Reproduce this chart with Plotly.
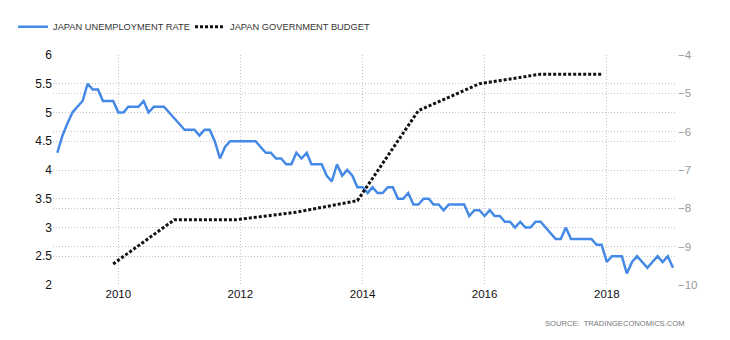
import plotly.graph_objects as go
import pandas as pd

# ---- data -------------------------------------------------------------
unemp_start = "2009-01-01"
unemployment = [
    4.3, 4.6, 4.8, 5.0, 5.1, 5.2, 5.5, 5.4, 5.4, 5.2, 5.2, 5.2,   # 2009
    5.0, 5.0, 5.1, 5.1, 5.1, 5.2, 5.0, 5.1, 5.1, 5.1, 5.0, 4.9,   # 2010
    4.8, 4.7, 4.7, 4.7, 4.6, 4.7, 4.7, 4.5, 4.2, 4.4, 4.5, 4.5,   # 2011
    4.5, 4.5, 4.5, 4.5, 4.4, 4.3, 4.3, 4.2, 4.2, 4.1, 4.1, 4.3,   # 2012
    4.2, 4.3, 4.1, 4.1, 4.1, 3.9, 3.8, 4.1, 3.9, 4.0, 3.9, 3.7,   # 2013
    3.7, 3.6, 3.7, 3.6, 3.6, 3.7, 3.7, 3.5, 3.5, 3.6, 3.4, 3.4,   # 2014
    3.5, 3.5, 3.4, 3.4, 3.3, 3.4, 3.4, 3.4, 3.4, 3.2, 3.3, 3.3,   # 2015
    3.2, 3.3, 3.2, 3.2, 3.1, 3.1, 3.0, 3.1, 3.0, 3.0, 3.1, 3.1,   # 2016
    3.0, 2.9, 2.8, 2.8, 3.0, 2.8, 2.8, 2.8, 2.8, 2.8, 2.7, 2.7,   # 2017
    2.4, 2.5, 2.5, 2.5, 2.2, 2.4, 2.5, 2.4, 2.3, 2.4, 2.5, 2.4,   # 2018
    2.5, 2.3,                                                     # 2019
]
budget_dates = ["2009-12-01", "2010-12-01", "2011-12-01", "2012-12-01",
                "2013-12-01", "2014-12-01", "2015-12-01", "2016-12-01",
                "2017-12-01"]
budget = [-9.45, -8.3, -8.3, -8.1, -7.8, -5.45, -4.75, -4.5, -4.5]

left_ticks = [2, 2.5, 3, 3.5, 4, 4.5, 5, 5.5, 6]
right_ticks = [-10, -9, -8, -7, -6, -5, -4]
x_ticks = ["2010-01-01", "2012-01-01", "2014-01-01", "2016-01-01", "2018-01-01"]
x_tick_text = ["2010", "2012", "2014", "2016", "2018"]

unemp_dates = pd.date_range(unemp_start, periods=len(unemployment), freq="MS")

FONT = "Liberation Sans, Arial, sans-serif"
GRID = "#c4c4c4"
GRID_DASH = "1px,2px"
PLOT_L, PLOT_W = 53, 624
PLOT_B, PLOT_H = 285, 236


def px_x(px):
    return (px - PLOT_L) / PLOT_W


def px_y(py):
    return (PLOT_B - py) / PLOT_H


fig = go.Figure()
fig.add_trace(go.Scatter(
    x=unemp_dates, y=unemployment, mode="lines",
    name="JAPAN UNEMPLOYMENT RATE",
    line=dict(color="#4589E6", width=2.5),
    yaxis="y", legend="legend",
))
fig.add_trace(go.Scatter(
    x=budget_dates, y=budget, mode="lines",
    name="JAPAN GOVERNMENT BUDGET",
    line=dict(color="#111111", width=3, dash="3px,2px"),
    yaxis="y2", legend="legend2",
))

legend_common = dict(
    orientation="h", xanchor="left", yanchor="middle",
    font=dict(size=9.3, color="#333", family=FONT),
    bgcolor="rgba(0,0,0,0)",
)

fig.update_layout(
    width=730, height=340,
    margin=dict(l=PLOT_L, r=730 - PLOT_L - PLOT_W, t=49, b=340 - PLOT_B),
    paper_bgcolor="white", plot_bgcolor="white",
    font=dict(family=FONT, color="#222"),
    showlegend=True,
    legend=dict(x=px_x(13), y=px_y(20), **legend_common),
    legend2=dict(x=px_x(190), y=px_y(20), **legend_common),
    xaxis=dict(
        type="date", range=["2008-12-06", "2019-02-25"],
        tickvals=x_ticks, ticktext=x_tick_text,
        showgrid=True, gridcolor=GRID, griddash=GRID_DASH, gridwidth=1,
        zeroline=False, showline=False, ticks="",
        tickfont=dict(size=11.5, color="#111"),
    ),
    yaxis=dict(
        range=[2, 6], tickvals=left_ticks,
        showgrid=True, gridcolor=GRID, griddash=GRID_DASH, gridwidth=1,
        zeroline=False, showline=False, ticks="",
        tickfont=dict(size=12, color="#111"),
    ),
    yaxis2=dict(
        range=[-10, -4], tickvals=right_ticks, overlaying="y", side="right",
        showgrid=True, gridcolor=GRID, griddash=GRID_DASH, gridwidth=1,
        zeroline=False, showline=False, ticks="",
        tickfont=dict(size=11.5, color="#999999"),
    ),
    annotations=[dict(
        text="SOURCE:  TRADINGECONOMICS.COM", xref="paper", yref="paper",
        x=px_x(687), y=px_y(325), xanchor="right", yanchor="middle",
        showarrow=False, font=dict(size=7.6, color="#777", family=FONT),
    )],
)

fig.write_html("out.html", config={"displayModeBar": False})
